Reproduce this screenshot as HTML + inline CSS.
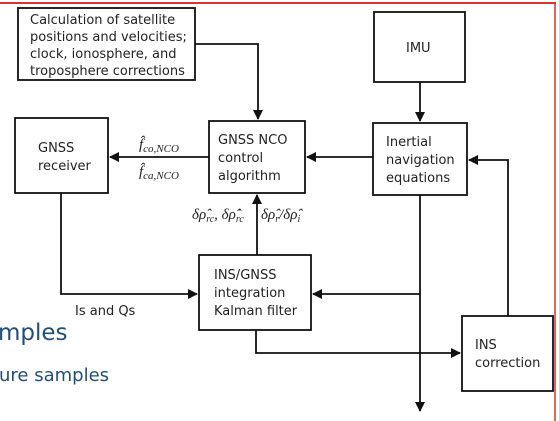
<!DOCTYPE html>
<html><head><meta charset="utf-8"><style>
html,body{margin:0;padding:0;background:#fff}
svg{display:block}
text{font-family:"DejaVu Sans","Liberation Sans",sans-serif;fill:#222;font-size:13px}
.m{font-family:"Liberation Serif",serif;font-style:italic;font-size:15px}
</style></head><body>
<svg width="559" height="421" viewBox="0 0 559 421">
<defs><marker id="a" markerWidth="10" markerHeight="10" refX="9" refY="5" orient="auto" markerUnits="userSpaceOnUse"><path d="M0,0 L10,5 L0,10 z" fill="#111"/></marker></defs>
<line x1="0" y1="3" x2="556" y2="3" stroke="#e03030" stroke-width="2"/>
<line x1="555" y1="3" x2="555" y2="421" stroke="#e03030" stroke-width="1.5"/>
<g fill="none" stroke="#111" stroke-width="1.8">
<rect x="18" y="8" width="177" height="72"/>
<rect x="374" y="12" width="91" height="70"/>
<rect x="15" y="118" width="93" height="75"/>
<rect x="209" y="121" width="96" height="72"/>
<rect x="373" y="123" width="94" height="72"/>
<rect x="199" y="255" width="112" height="75"/>
<rect x="462" y="316" width="91" height="75"/>
<path d="M195,44 H258 V119" marker-end="url(#a)"/>
<path d="M420,82 V121" marker-end="url(#a)"/>
<path d="M373,157 H307" marker-end="url(#a)"/>
<path d="M209,157 H110" marker-end="url(#a)"/>
<path d="M257,255 V195" marker-end="url(#a)"/>
<path d="M61,193 V294 H197" marker-end="url(#a)"/>
<path d="M420,195 V411" marker-end="url(#a)"/>
<path d="M420,294 H313" marker-end="url(#a)"/>
<path d="M256,330 V353 H460" marker-end="url(#a)"/>
<path d="M508,316 V160 H469" marker-end="url(#a)"/>
</g>
<text x="30" y="24">Calculation of satellite</text>
<text x="30" y="41">positions and velocities;</text>
<text x="30" y="58">clock, ionosphere, and</text>
<text x="30" y="75">troposphere corrections</text>
<text x="406" y="52">IMU</text>
<text x="38" y="152">GNSS</text>
<text x="38" y="170">receiver</text>
<text x="218" y="144">GNSS NCO</text>
<text x="218" y="162">control</text>
<text x="218" y="180">algorithm</text>
<text x="386" y="146">Inertial</text>
<text x="386" y="164">navigation</text>
<text x="386" y="182">equations</text>
<text x="214" y="279">INS/GNSS</text>
<text x="214" y="297">integration</text>
<text x="214" y="315">Kalman filter</text>
<text x="475" y="349">INS</text>
<text x="475" y="367">correction</text>
<text x="75" y="315">Is and Qs</text>
<text class="m" x="139" y="149">f̂<tspan font-size="11" dy="3">co,NCO</tspan></text>
<text class="m" x="139" y="176">f̂<tspan font-size="11" dy="3">ca,NCO</tspan></text>
<text class="m" x="192" y="219">δρ̂<tspan font-size="10" dy="3">rc</tspan><tspan dy="-3">, δρ̂̇</tspan><tspan font-size="10" dy="3">rc</tspan></text>
<text class="m" x="261" y="219">δρ̂<tspan font-size="10" dy="3">r</tspan><tspan dy="-3">/δρ̂</tspan><tspan font-size="10" dy="3">i</tspan></text>
<text x="-2" y="340" style="font-size:23px;fill:#1f4e79">mples</text>
<text x="-1" y="381" style="font-size:18px;fill:#1f4e79">ure samples</text>
</svg>
</body></html>
